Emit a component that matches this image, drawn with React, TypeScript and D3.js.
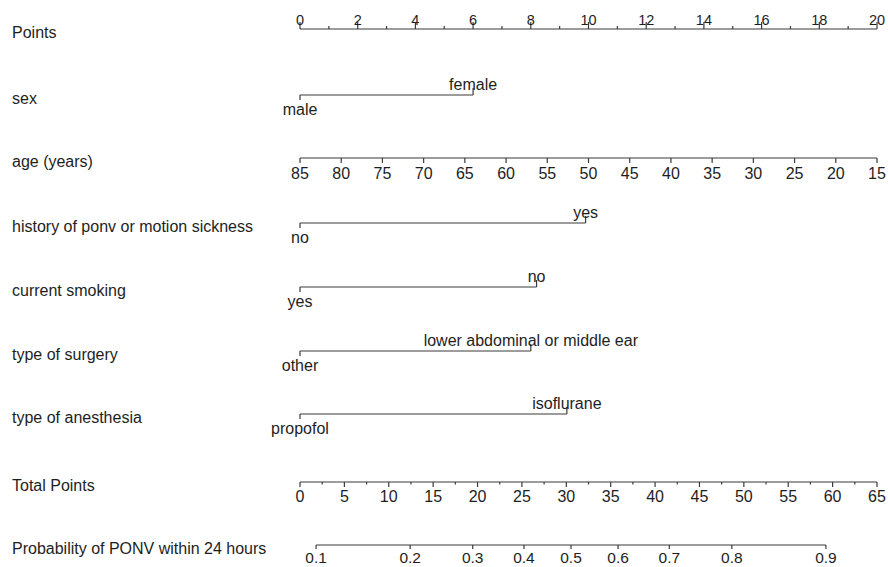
import React from 'react';
import * as d3 from 'd3';

// nomogram values
const pointTicks = [0, 2, 4, 6, 8, 10, 12, 14, 16, 18, 20];
const pointMinor = [1, 3, 5, 7, 9, 11, 13, 15, 17, 19];
const ageTicks = [85, 80, 75, 70, 65, 60, 55, 50, 45, 40, 35, 30, 25, 20, 15];
const ageDomain = [85, 15];
const totalTicks = [0, 5, 10, 15, 20, 25, 30, 35, 40, 45, 50, 55, 60, 65];
const totalMinor = [2.5, 7.5, 12.5, 17.5, 22.5, 27.5, 32.5, 37.5, 42.5, 47.5, 52.5, 57.5, 62.5];
const probTicks = [0.1, 0.2, 0.3, 0.4, 0.5, 0.6, 0.7, 0.8, 0.9];
// total points where logit = 0 and points per logit unit
const lpIntercept = 30.53;
const lpSlope = 13.07;

const catNames = ['sex', 'history of ponv or motion sickness', 'current smoking', 'type of surgery', 'type of anesthesia'];
const catLow = ['male', 'no', 'yes', 'other', 'propofol'];
const catHigh = ['female', 'yes', 'no', 'lower abdominal or middle ear', 'isoflurane'];
const catHighPoints = [6, 9.9, 8.2, 8.0, 9.25];

const W = 888;
const H = 567;
const x0 = 300;
const x1 = 877;
const rowY = { points: 29, sex: 95, age: 158, history: 223, smoking: 287, surgery: 351, anesthesia: 414, total: 482, prob: 545 };
const catRows = [rowY.sex, rowY.history, rowY.smoking, rowY.surgery, rowY.anesthesia];

const font = '"Liberation Sans", Arial, sans-serif';
const ink = '#1e1e1e';
const lineCol = '#3a3a3a';

export default function App() {
  const xPts = d3.scaleLinear().domain([0, 20]).range([x0, x1]);
  const xAge = d3.scaleLinear().domain(ageDomain).range([x0, x1]);
  const xTot = d3.scaleLinear().domain([0, 65]).range([x0, x1]);
  const logit = (p: number) => Math.log(p / (1 - p));
  const xProb = (p: number) => xTot(lpIntercept + lpSlope * logit(p));

  const leftLabels = [
    ['Points', rowY.points],
    ['sex', rowY.sex],
    ['age (years)', rowY.age],
    ['history of ponv or motion sickness', rowY.history],
    ['current smoking', rowY.smoking],
    ['type of surgery', rowY.surgery],
    ['type of anesthesia', rowY.anesthesia],
    ['Total Points', rowY.total],
    ['Probability of PONV within 24 hours', rowY.prob],
  ] as [string, number][];

  return (
    <div>
      <style>{'body{margin:0}'}</style>
      <svg width={W} height={H} style={{ display: 'block', background: '#fff' }} fontFamily={font}>
        {leftLabels.map(([t, y]) => (
          <text key={t} x={12} y={y + 9} fontSize={16} fill={ink}>{t}</text>
        ))}

        {/* Points */}
        <g stroke={lineCol} strokeWidth={1.2}>
          <line x1={xPts(0)} x2={xPts(20)} y1={rowY.points} y2={rowY.points} />
          {pointTicks.map(v => <line key={v} x1={xPts(v)} x2={xPts(v)} y1={rowY.points} y2={rowY.points - 7} />)}
          {pointMinor.map(v => <line key={v} x1={xPts(v)} x2={xPts(v)} y1={rowY.points} y2={rowY.points - 3} />)}
        </g>
        {pointTicks.map(v => (
          <text key={v} x={xPts(v)} y={rowY.points - 4} fontSize={14.5} textAnchor="middle" fill={ink}>{v}</text>
        ))}

        {/* categorical rows */}
        {catNames.map((n, i) => {
          const y = catRows[i];
          const xa = xPts(0);
          const xb = xPts(catHighPoints[i]);
          return (
            <g key={n}>
              <g stroke={lineCol} strokeWidth={1.2}>
                <line x1={xa} x2={xb} y1={y} y2={y} />
                <line x1={xa} x2={xa} y1={y} y2={y + 5} />
                <line x1={xb} x2={xb} y1={y} y2={y - 7} />
              </g>
              <text x={xa} y={y + 20} fontSize={16} textAnchor="middle" fill={ink}>{catLow[i]}</text>
              <text x={xb} y={y - 5} fontSize={16} textAnchor="middle" fill={ink}>{catHigh[i]}</text>
            </g>
          );
        })}

        {/* age */}
        <g stroke={lineCol} strokeWidth={1.2}>
          <line x1={xAge(85)} x2={xAge(15)} y1={rowY.age} y2={rowY.age} />
          {ageTicks.map(v => <line key={v} x1={xAge(v)} x2={xAge(v)} y1={rowY.age} y2={rowY.age + 5} />)}
        </g>
        {ageTicks.map(v => (
          <text key={v} x={xAge(v)} y={rowY.age + 21} fontSize={16} textAnchor="middle" fill={ink}>{v}</text>
        ))}

        {/* Total points */}
        <g stroke={lineCol} strokeWidth={1.2}>
          <line x1={xTot(0)} x2={xTot(65)} y1={rowY.total} y2={rowY.total} />
          {totalTicks.map(v => <line key={v} x1={xTot(v)} x2={xTot(v)} y1={rowY.total} y2={rowY.total + 5} />)}
          {totalMinor.map(v => <line key={v} x1={xTot(v)} x2={xTot(v)} y1={rowY.total} y2={rowY.total + 2.5} />)}
        </g>
        {totalTicks.map(v => (
          <text key={v} x={xTot(v)} y={rowY.total + 20} fontSize={16} textAnchor="middle" fill={ink}>{v}</text>
        ))}

        {/* probability */}
        <g stroke={lineCol} strokeWidth={1.2}>
          <line x1={xProb(0.1)} x2={xProb(0.9)} y1={rowY.prob} y2={rowY.prob} />
          {probTicks.map(v => <line key={v} x1={xProb(v)} x2={xProb(v)} y1={rowY.prob} y2={rowY.prob + 4} />)}
        </g>
        {probTicks.map(v => (
          <text key={v} x={xProb(v)} y={rowY.prob + 18} fontSize={15.5} textAnchor="middle" fill={ink}>{v}</text>
        ))}
      </svg>
    </div>
  );
}
